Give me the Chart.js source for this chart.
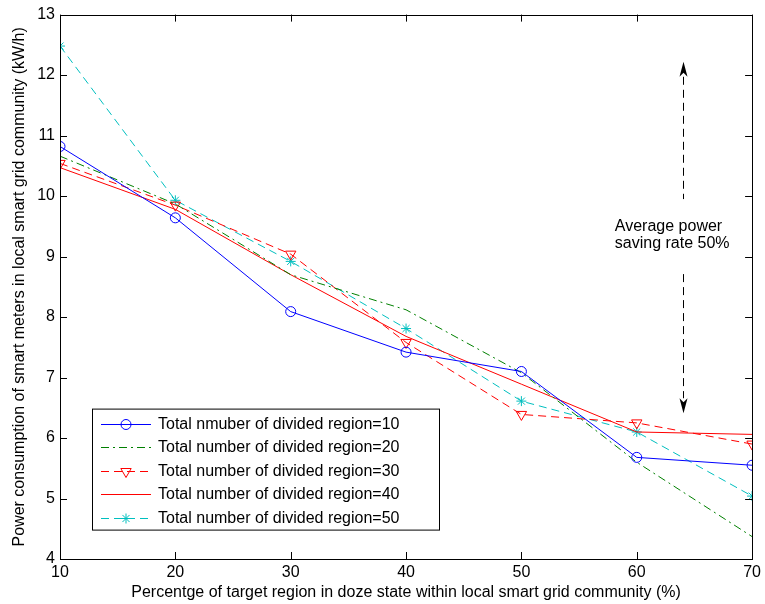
<!DOCTYPE html>
<html lang="en">
<head>
<meta charset="utf-8">
<title>Power consumption vs doze state percentage</title>
<script src="https://cdn.jsdelivr.net/npm/chart.js@4.4.1/dist/chart.umd.min.js"></script>
<style>
    html, body { margin: 0; padding: 0; background: #fff; }
    #wrap { width: 765px; height: 604px; }
</style>
</head>
<body>
<div id="wrap"><canvas id="chart" width="765" height="604"></canvas></div>
<script>
"use strict";

// percentage of target region in doze state
const dozePercent = [10, 20, 30, 40, 50, 60, 70];

// power consumption (kW/h) for each number of divided regions
const region10 = [10.82, 9.64, 8.09, 7.42, 7.10, 5.68, 5.55];
const region20 = [10.66, 9.87, 8.70, 8.12, 7.08, 5.60, 4.37];
const region30 = [10.54, 9.85, 9.04, 7.58, 6.39, 6.25, 5.90];
const region40 = [10.47, 9.78, 8.70, 7.68, 6.89, 6.10, 6.06];
const region50 = [12.48, 9.93, 8.92, 7.81, 6.61, 6.10, 5.04];

const xTicks = [10, 20, 30, 40, 50, 60, 70];
const yTicks = [4, 5, 6, 7, 8, 9, 10, 11, 12, 13];

const legendLabels = [
    "Total nmuber of divided region=10",
    "Total number of divided region=20",
    "Total number of divided region=30",
    "Total number of divided region=40",
    "Total number of divided region=50"
];

const FONT = "'Liberation Sans', Arial, Helvetica, sans-serif";

// pairs x and y values into points for a linear x axis
function toPoints(values) {
    return values.map((v, i) => ({ x: dozePercent[i], y: v }));
}

// inward ticks on all four sides plus the closing box
const boxTicks = {
    id: 'boxTicks',
    afterDatasetsDraw(chart) {
        const ctx = chart.ctx;
        const a = chart.chartArea;
        const xs = chart.scales.x;
        const ys = chart.scales.y;
        const len = 7;
        ctx.save();
        ctx.strokeStyle = '#000';
        ctx.lineWidth = 1;
        ctx.beginPath();
        xTicks.forEach(t => {
            const px = Math.round(xs.getPixelForValue(t)) + 0.5;
            ctx.moveTo(px, a.bottom); ctx.lineTo(px, a.bottom - len);
            ctx.moveTo(px, a.top); ctx.lineTo(px, a.top + len);
        });
        yTicks.forEach(t => {
            const py = Math.round(ys.getPixelForValue(t)) + 0.5;
            ctx.moveTo(a.left, py); ctx.lineTo(a.left + len, py);
            ctx.moveTo(a.right, py); ctx.lineTo(a.right - len, py);
        });
        ctx.stroke();
        ctx.strokeRect(Math.round(a.left) + 0.5, Math.round(a.top) + 0.5,
            Math.round(a.right - a.left), Math.round(a.bottom - a.top));
        ctx.restore();
    }
};

// double arrow with the saving rate note
const savingNote = {
    id: 'savingNote',
    afterDatasetsDraw(chart) {
        const ctx = chart.ctx;
        const xs = chart.scales.x;
        const ys = chart.scales.y;
        const x = Math.round(xs.getPixelForValue(64)) + 0.5;
        const yTop = ys.getPixelForValue(12.22);
        const yBot = ys.getPixelForValue(6.41);
        const head = 15;
        ctx.save();
        ctx.strokeStyle = '#000';
        ctx.fillStyle = '#000';
        ctx.lineWidth = 1;
        ctx.setLineDash([8, 5]);
        ctx.beginPath();
        ctx.moveTo(x, yTop + head); ctx.lineTo(x, ys.getPixelForValue(9.95));
        ctx.moveTo(x, ys.getPixelForValue(8.71)); ctx.lineTo(x, yBot - head);
        ctx.stroke();
        ctx.setLineDash([]);
        // arrow heads
        [[yTop, 1], [yBot, -1]].forEach(([tip, dir]) => {
            ctx.beginPath();
            ctx.moveTo(x, tip);
            ctx.lineTo(x - 4, tip + dir * head);
            ctx.lineTo(x, tip + dir * (head - 4));
            ctx.lineTo(x + 4, tip + dir * head);
            ctx.closePath();
            ctx.fill();
        });
        ctx.font = '16px ' + FONT;
        ctx.textAlign = 'left';
        ctx.textBaseline = 'middle';
        const tx = xs.getPixelForValue(58.1);
        ctx.fillText('Average power', tx, ys.getPixelForValue(9.49));
        ctx.fillText('saving rate 50%', tx, ys.getPixelForValue(9.21));
        ctx.restore();
    }
};

// legend box in the lower left of the plot
const boxLegend = {
    id: 'boxLegend',
    afterDraw(chart) {
        const ctx = chart.ctx;
        const a = chart.chartArea;
        const left = a.left + 32;
        const top = a.top + 394;
        const w = 347;
        const h = 121;
        ctx.save();
        ctx.fillStyle = '#fff';
        ctx.fillRect(left, top, w, h);
        ctx.strokeStyle = '#000';
        ctx.lineWidth = 1;
        ctx.strokeRect(left + 0.5, top + 0.5, w, h);
        ctx.font = '16px ' + FONT;
        ctx.textBaseline = 'middle';
        chart.data.datasets.forEach((ds, i) => {
            const y = Math.round(top + 15 + i * 23.5) + 0.5;
            const x0 = left + 9;
            const x1 = left + 59;
            ctx.strokeStyle = ds.borderColor;
            ctx.lineWidth = ds.borderWidth;
            ctx.setLineDash(ds.borderDash || []);
            ctx.beginPath();
            ctx.moveTo(x0, y); ctx.lineTo(x1, y);
            ctx.stroke();
            ctx.setLineDash([]);
            if (ds.pointRadius > 0) {
                ctx.fillStyle = 'rgba(0,0,0,0)';
                ctx.strokeStyle = ds.pointBorderColor;
                Chart.helpers.drawPoint(ctx, {
                    pointStyle: ds.pointStyle,
                    radius: ds.pointRadius,
                    rotation: ds.pointRotation || 0,
                    borderWidth: 1
                }, (x0 + x1) / 2, y);
            }
            ctx.fillStyle = '#000';
            ctx.fillText(legendLabels[i], left + 66, y);
        });
        ctx.restore();
    }
};

function makeSet(values, color, dash, style, radius, rotation) {
    return {
        data: toPoints(values),
        borderColor: color,
        backgroundColor: 'transparent',
        pointBorderColor: color,
        pointBackgroundColor: 'transparent',
        borderWidth: 1,
        borderDash: dash,
        pointStyle: style,
        pointRadius: radius,
        pointRotation: rotation,
        pointBorderWidth: 1,
        tension: 0,
        fill: false
    };
}

const ctxEl = document.getElementById('chart');

new Chart(ctxEl, {
    type: 'line',
    data: {
        datasets: [
            makeSet(region10, '#0000ff', [], 'circle', 5, 0),
            makeSet(region20, '#008000', [8, 4, 2, 4], false, 0, 0),
            makeSet(region30, '#ff0000', [8, 5], 'triangle', 6, 180),
            makeSet(region40, '#ff0000', [], false, 0, 0),
            makeSet(region50, '#00bfbf', [8, 5], 'star', 5, 0)
        ]
    },
    options: {
        responsive: false,
        animation: false,
        devicePixelRatio: 1,
        layout: { padding: { top: 13, right: 10, left: 0, bottom: 0 } },
        plugins: {
            legend: { display: false },
            tooltip: { enabled: false }
        },
        scales: {
            x: {
                type: 'linear',
                min: 10,
                max: 70,
                afterBuildTicks(scale) { scale.ticks = xTicks.map(v => ({ value: v })); },
                afterFit(scale) { scale.height = 45; },
                grid: { display: false, drawTicks: false },
                border: { display: false },
                ticks: { color: '#000', padding: 4, maxRotation: 0, font: { family: FONT, size: 16 } },
                title: {
                    display: true,
                    text: 'Percentge of target region in doze state within local smart grid community (%)',
                    color: '#000',
                    padding: { top: 0, bottom: 2 },
                    font: { family: FONT, size: 16 }
                }
            },
            y: {
                min: 4,
                max: 13,
                afterBuildTicks(scale) { scale.ticks = yTicks.map(v => ({ value: v })); },
                afterFit(scale) { scale.width = 60; },
                grid: { display: false, drawTicks: false },
                border: { display: false },
                ticks: { color: '#000', padding: 5, font: { family: FONT, size: 16 } },
                title: {
                    display: true,
                    text: 'Power consumption of smart meters in local smart grid community (kW/h)',
                    color: '#000',
                    padding: { top: 10, bottom: 0 },
                    font: { family: FONT, size: 16 }
                }
            }
        }
    },
    plugins: [boxTicks, savingNote, boxLegend]
});
</script>
</body>
</html>
